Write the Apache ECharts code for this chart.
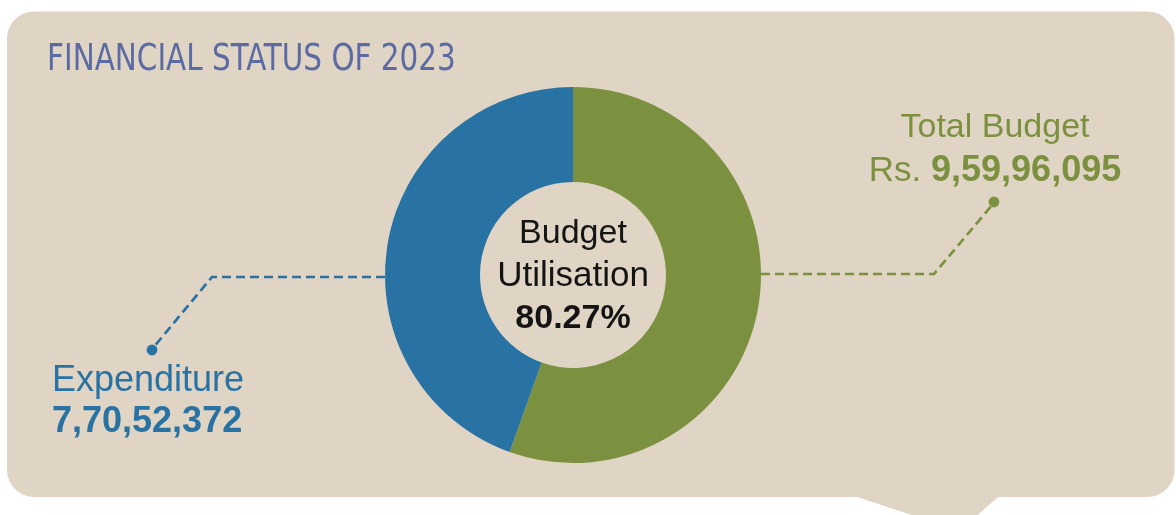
<!DOCTYPE html>
<html>
<head>
<meta charset="utf-8">
<style>
html,body{margin:0;padding:0;background:#ffffff;}
#chart{width:1176px;height:515px;}
</style>
<script src="https://cdn.jsdelivr.net/npm/echarts@6/dist/echarts.min.js"></script>
</head>
<body>
<div id="chart"></div>
<script>
// ---- data ----
const chartTitle = 'FINANCIAL STATUS OF 2023';
const categories = ['Total Budget', 'Expenditure'];
const values = [95996095, 77052372];
const centerLabel = ['Budget', 'Utilisation'];
const currencyPrefix = 'Rs. ';

function formatIndian(n) {
  const s = String(Math.round(n));
  if (s.length <= 3) return s;
  const last3 = s.slice(-3);
  let rest = s.slice(0, -3);
  const parts = [];
  while (rest.length > 2) { parts.unshift(rest.slice(-2)); rest = rest.slice(0, -2); }
  if (rest.length) parts.unshift(rest);
  return parts.join(',') + ',' + last3;
}
const utilisation = (values[1] / values[0] * 100).toFixed(2) + '%';

const BLUE = '#2872a4', GREEN = '#7b913f', BG = '#e0d5c4', TITLE = '#5c6ba3';
const cx = 573, cy = 275, rIn = 93, rOut = 188;
const font = "'Liberation Sans', Arial, sans-serif";
const narrow = "'Liberation Sans Narrow', 'DejaVu Sans Condensed', sans-serif";

const chart = echarts.init(document.getElementById('chart'), null, {renderer: 'canvas'});
chart.setOption({
  backgroundColor: '#ffffff',
  animation: false,
  graphic: [
    {type: 'rect', z: -10, shape: {x: 7, y: 11.5, width: 1167.5, height: 485.5, r: 27}, style: {fill: BG}},
    {type: 'polygon', z: -10, shape: {points: [[848, 490], [857, 497], [927, 520], [972, 520], [998, 497], [1006, 490]]}, style: {fill: BG}},
    {type: 'text', x: 47, y: 42, scaleX: 0.885, style: {text: chartTitle, fill: TITLE, font: "300 37px " + narrow}},
    // blue leader
    {type: 'polyline', shape: {points: [[cx - rOut, 277], [212, 277], [153, 348]]}, style: {stroke: BLUE, lineWidth: 2.7, lineDash: [9, 5], fill: null}},
    {type: 'circle', shape: {cx: 152, cy: 350, r: 5.4}, style: {fill: BLUE}},
    // green leader
    {type: 'polyline', shape: {points: [[cx + rOut, 274], [934, 274], [993, 204]]}, style: {stroke: GREEN, lineWidth: 2.7, lineDash: [9, 5], fill: null}},
    {type: 'circle', shape: {cx: 994, cy: 202, r: 5.4}, style: {fill: GREEN}},
    // expenditure text
    {type: 'text', x: 52, y: 381, style: {text: categories[1], fill: BLUE, font: "36px " + font, verticalAlign: 'middle', align: 'left'}},
    {type: 'text', x: 52, y: 422, style: {text: formatIndian(values[1]), fill: BLUE, font: "bold 36px " + font, verticalAlign: 'middle', align: 'left'}},
    // total budget text
    {type: 'text', x: 995, y: 128, style: {text: categories[0], fill: GREEN, font: "34px " + font, verticalAlign: 'middle', align: 'center'}},
    {type: 'text', x: 995, y: 171, style: {
      text: '{a|' + currencyPrefix + '}{b|' + formatIndian(values[0]) + '}',
      align: 'center', verticalAlign: 'middle',
      rich: {
        a: {fill: GREEN, font: "35px " + font},
        b: {fill: GREEN, font: "bold 36px " + font}
      }
    }},
    // center
    {type: 'text', x: cx, y: 234, style: {text: centerLabel[0], fill: '#141414', font: "34px " + font, verticalAlign: 'middle', align: 'center'}},
    {type: 'text', x: cx, y: 276, style: {text: centerLabel[1], fill: '#141414', font: "35px " + font, verticalAlign: 'middle', align: 'center'}},
    {type: 'text', x: cx, y: 319, style: {text: utilisation, fill: '#141414', font: "bold 34px " + font, verticalAlign: 'middle', align: 'center'}}
  ],
  series: [{
    type: 'pie',
    center: [cx, cy],
    radius: [rIn, rOut],
    startAngle: 90,
    clockwise: true,
    silent: true,
    label: {show: false},
    labelLine: {show: false},
    itemStyle: {borderWidth: 0},
    data: categories.map((c, i) => ({name: c, value: values[i], itemStyle: {color: i === 0 ? GREEN : BLUE}}))
  }]
});
</script>
</body>
</html>
